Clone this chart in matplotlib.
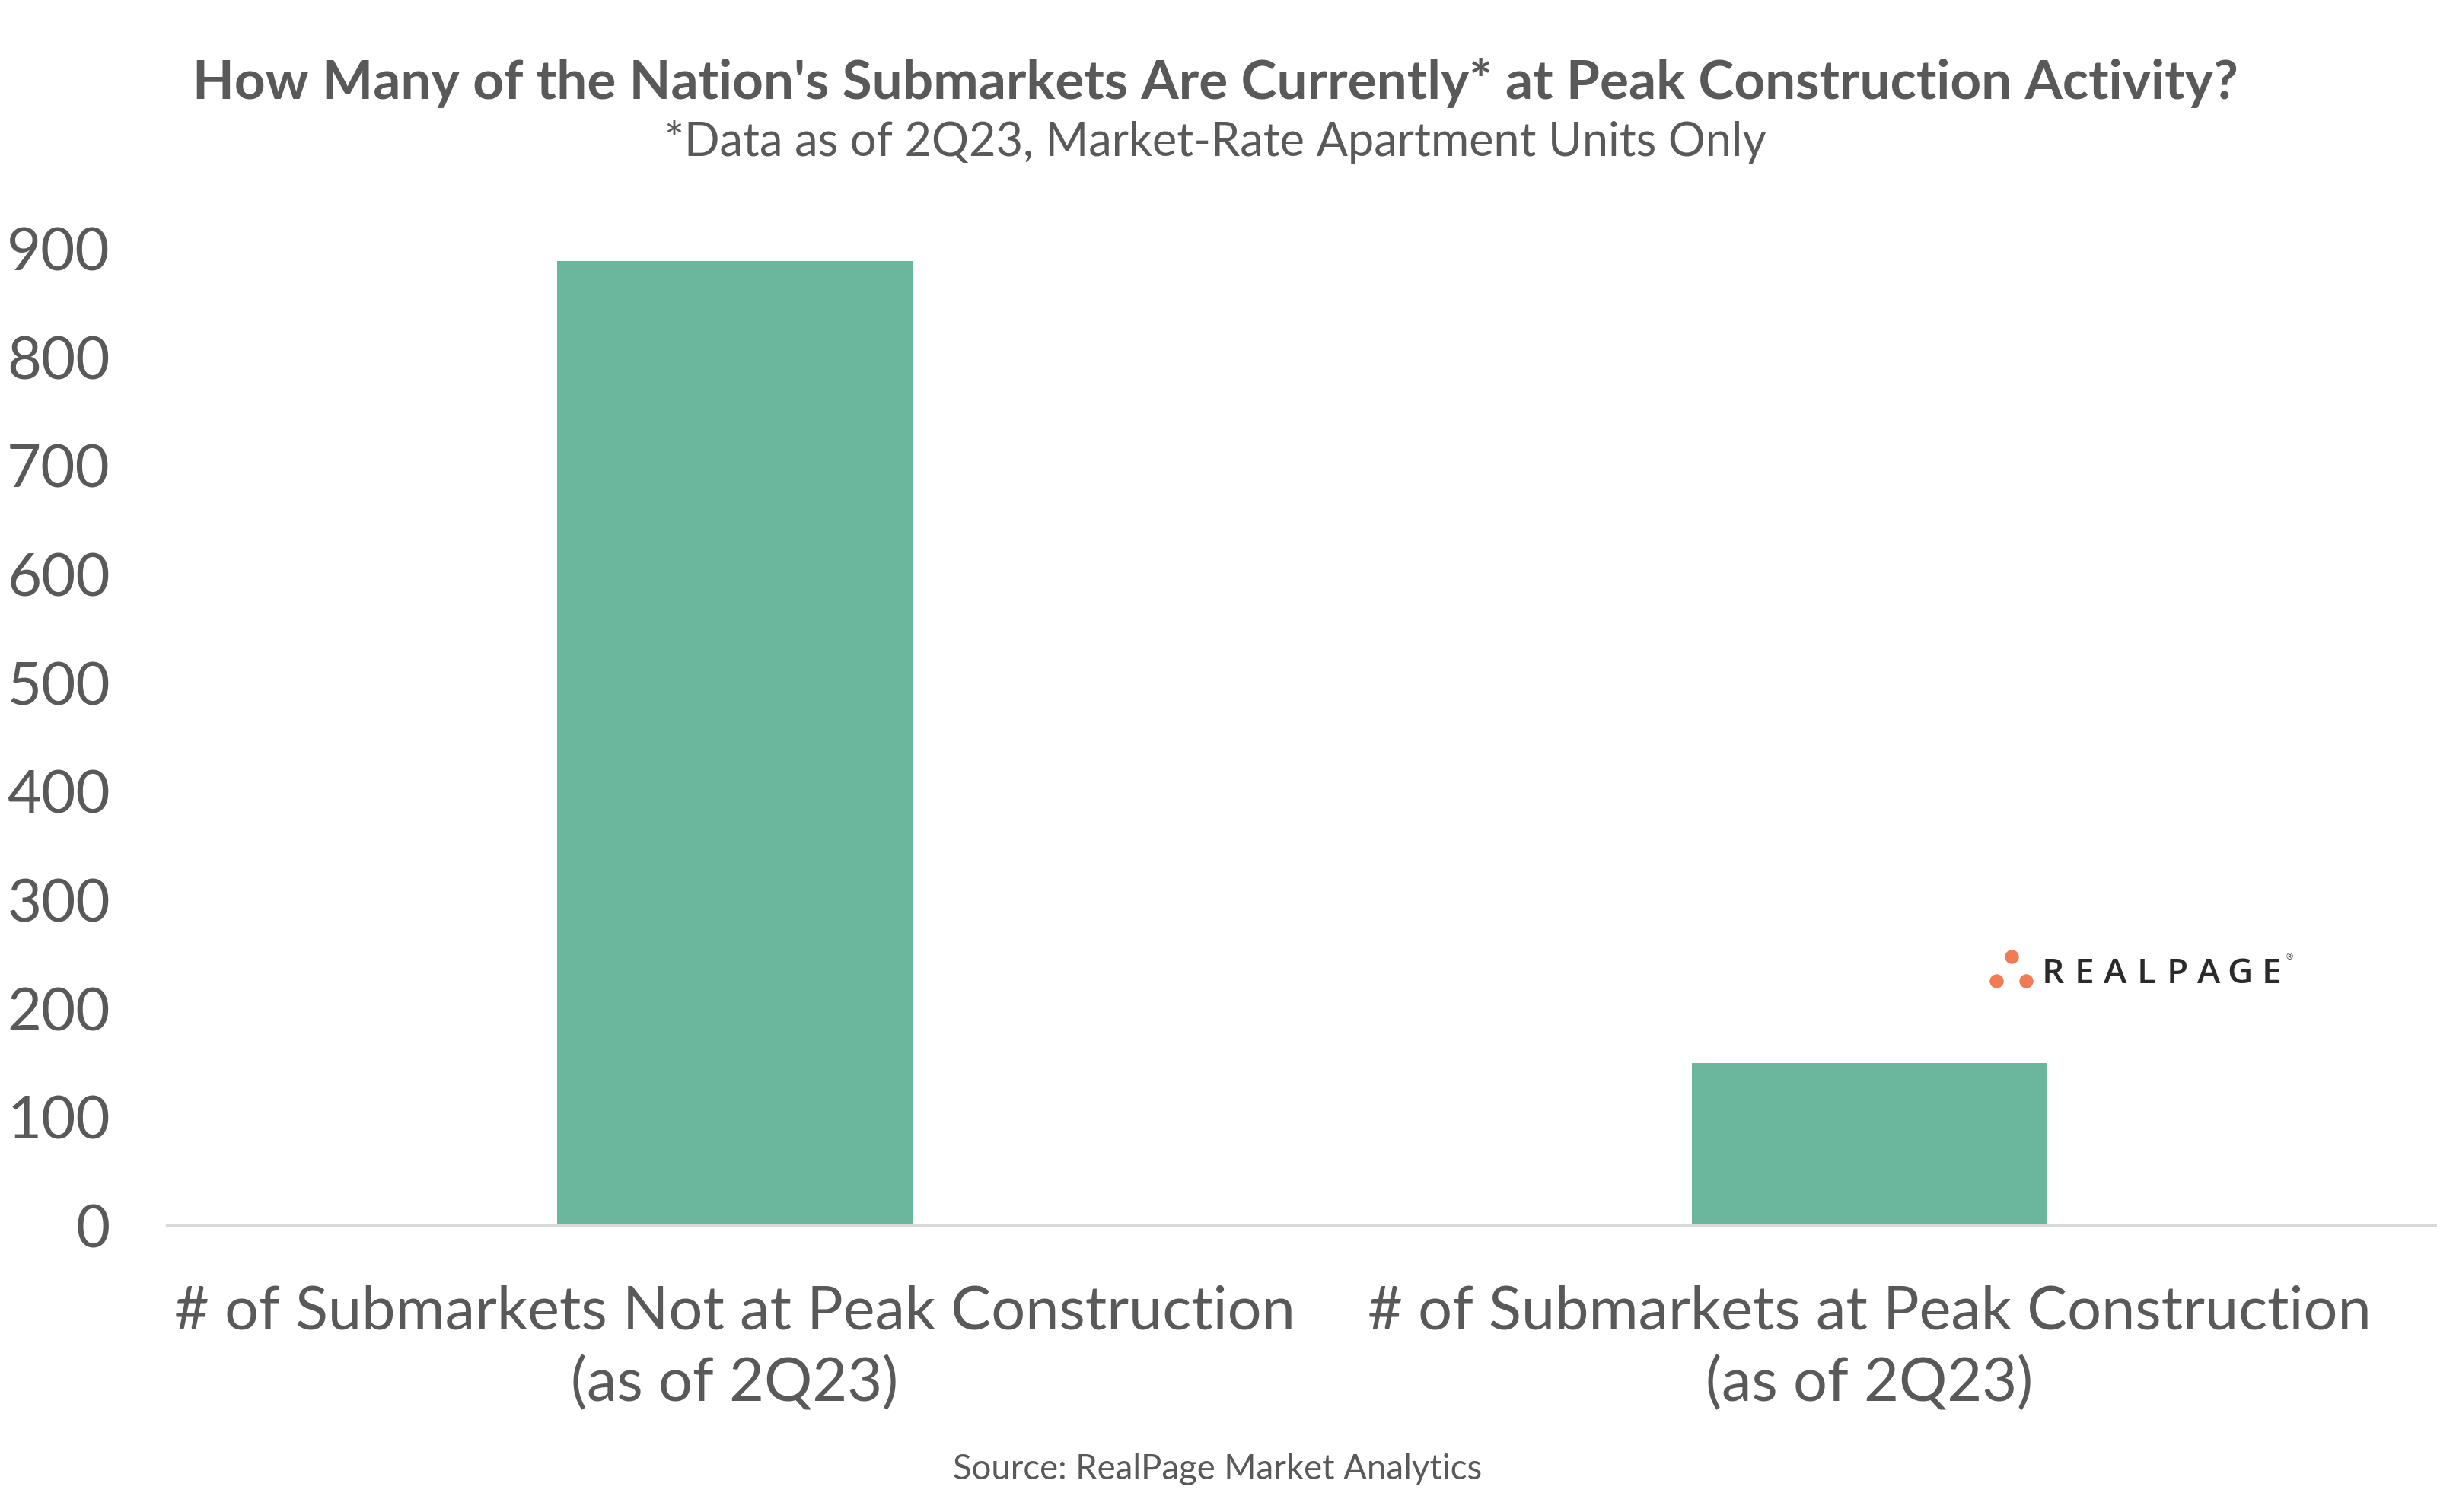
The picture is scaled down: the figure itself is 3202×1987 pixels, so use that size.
import matplotlib.pyplot as plt

# data
categorias = ['# of Submarkets Not at Peak Construction\n(as of 2Q23)',
              '# of Submarkets at Peak Construction\n(as of 2Q23)']
valores = [889, 150]
yticks = [0, 100, 200, 300, 400, 500, 600, 700, 800, 900]

cinza = '#595959'
verde = '#6AB79E'

plt.rcParams['font.family'] = ['Lato', 'DejaVu Sans']

fig = plt.figure(figsize=(16.01, 9.935), dpi=200)
ax = fig.add_axes([0.0687, 0.1892, 0.9313, 0.6462])

x = range(len(valores))
ax.bar(x, valores, width=0.313, color=verde)

ax.set_xlim(-0.5, 1.5)
ax.set_ylim(0, 900)
ax.set_yticks(yticks)
ax.set_xticks(list(x))
ax.set_xticklabels(categorias, fontsize=28.5, color=cinza, linespacing=1.36)
ax.tick_params(axis='y', labelsize=28, labelcolor=cinza, length=0, pad=27)
ax.tick_params(axis='x', length=0, pad=28)

for s in ['top', 'right', 'left']:
    ax.spines[s].set_visible(False)
ax.spines['bottom'].set_color('#D9D9D9')
ax.spines['bottom'].set_linewidth(1.5)

# titulos
fig.text(0.4988, 0.945, "How Many of the Nation's Submarkets Are Currently* at Peak Construction Activity?",
         ha='center', va='center', fontsize=25.6, fontweight='bold', color=cinza)
fig.text(0.4988, 0.906, '*Data as of 2Q23, Market-Rate Apartment Units Only',
         ha='center', va='center', fontsize=22, color=cinza)
fig.text(0.4997, 0.028, 'Source: RealPage Market Analytics',
         ha='center', va='center', fontsize=16.4, color=cinza)

# logo
W, H = 3202, 1987
dots_x = [2643, 2623, 2662]
dots_y = [1257, 1289, 1289]
ax_logo = fig.add_axes([0, 0, 1, 1], facecolor='none')
ax_logo.set_xlim(0, W)
ax_logo.set_ylim(H, 0)
ax_logo.axis('off')
ax_logo.scatter(dots_x, dots_y, s=44, color='#F07B55', linewidths=0)
letras = 'REALPAGE'
for i, c in enumerate(letras):
    ax_logo.text(2697 + i * 41, 1280, c, ha='center', va='center', fontweight='semibold',
                 fontsize=16.5, color='#2B2B2B', family=['Open Sans', 'DejaVu Sans'])
ax_logo.text(3004, 1258, '®', ha='left', va='center', fontsize=4, color='#2B2B2B')

fig.savefig('out.png', dpi=200)
